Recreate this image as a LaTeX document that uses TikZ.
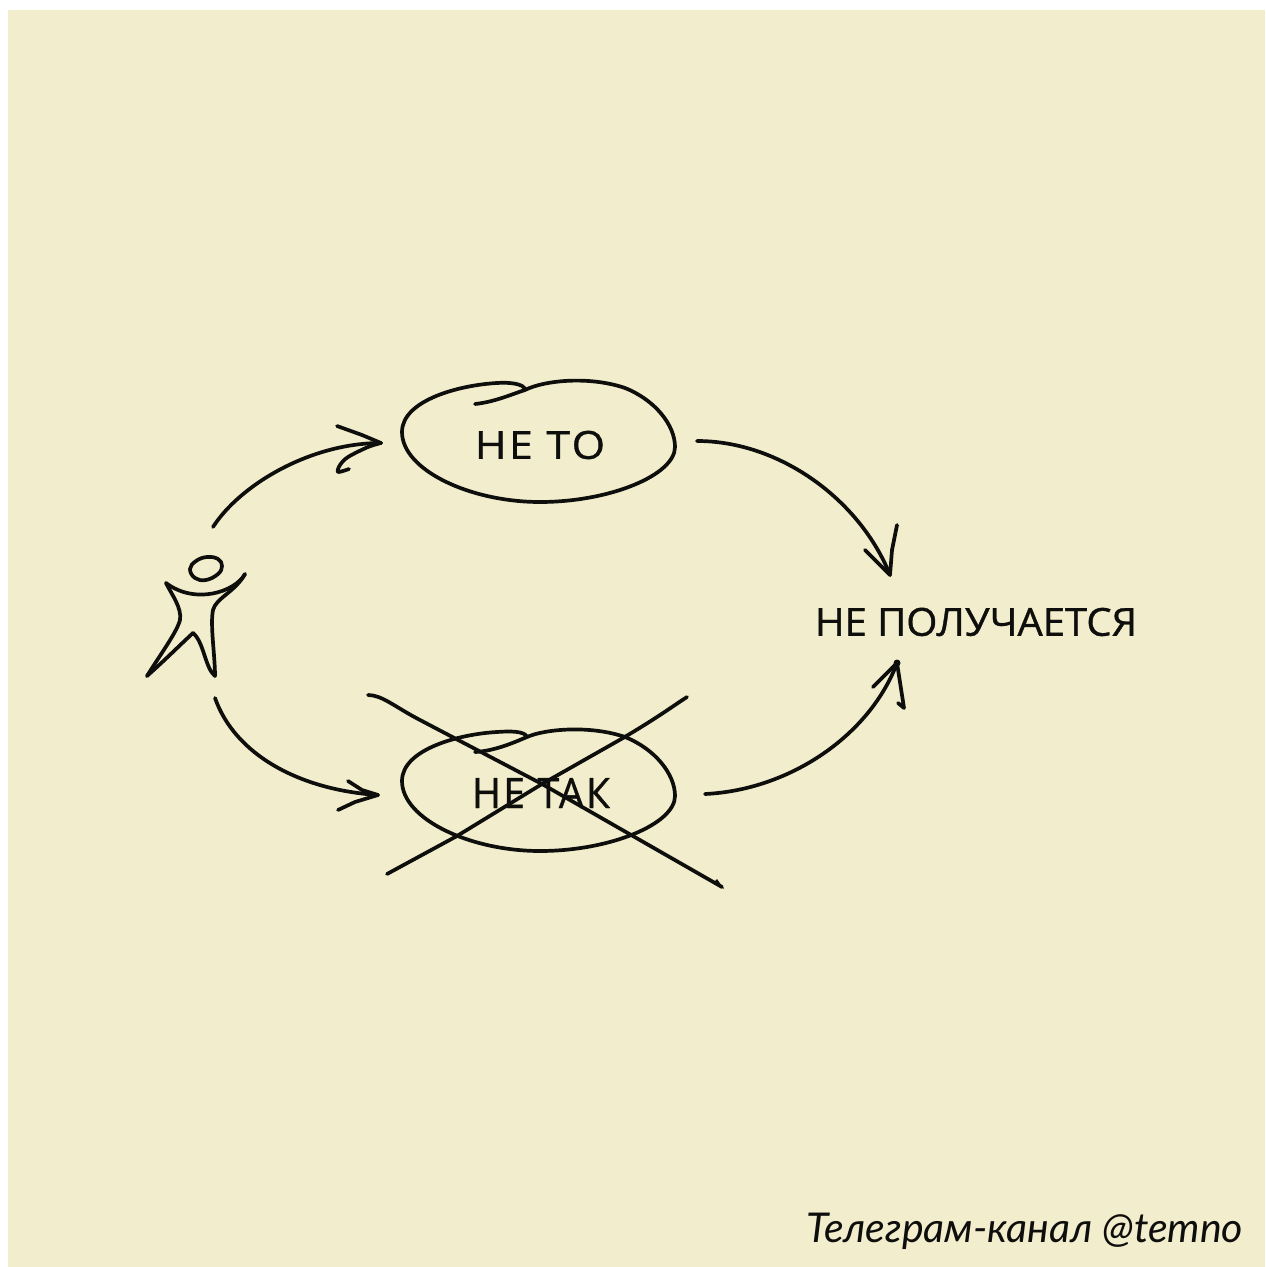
\documentclass[tikz,border=0pt]{standalone}
\usepackage{graphicx}
\usepackage{fontspec}
\setmainfont{Open Sans}
\newfontfamily\handfont{Open Sans}[FakeBold=0.9]
\newfontfamily\capfont{Lato}
\definecolor{paper}{HTML}{F2EDCC}
\definecolor{ink}{HTML}{0E0E0C}
\newcommand{\fitlabel}[3]{\resizebox{#1}{#2}{#3}}
\tikzset{
  sketch/.style={draw=ink,line width=1.85pt,line cap=round,line join=round},
  handlabel/.style={inner sep=0pt,outer sep=0pt,text=ink},
}
\begin{document}
\begin{tikzpicture}[x=0.5pt,y=-0.5pt]
\useasboundingbox (0,0) rectangle (1265,1267);
\fill[white] (0,0) rectangle (1265,1267);
\fill[paper] (8,10) rectangle (1265,1267);

% labels
\node[handlabel] (neto) at (540,445) {\fitlabel{65pt}{14pt}{\handfont\addfontfeature{LetterSpace=6}НЕ ТО}};
\node[handlabel] (netak) at (541,793) {\fitlabel{69pt}{15pt}{\handfont\addfontfeature{LetterSpace=6}НЕ ТАК}};
\node[handlabel] (result) at (976,622) {\fitlabel{161pt}{14pt}{\handfont НЕ ПОЛУЧАЕТСЯ}};
\node[handlabel,anchor=base west] (credit) at (806,1242) {\resizebox{218.5pt}{!}{\capfont\itshape Телеграм-канал @temno}};

% connector ends
\coordinate (manTop) at (213,527);
\coordinate (manBottom) at (215,698);
\coordinate (netoIn) at (381,443);
\coordinate (netoOut) at (697,441);
\coordinate (netakIn) at (378,795);
\coordinate (netakOut) at (705,794);
\coordinate (resultTop) at (890,575);
\coordinate (resultBottom) at (897,663);

% top blob
\draw[sketch] (475,404) .. controls (495,402) and (515,393) .. (525,390)
  .. controls (545,380) and (590,376) .. (625,388)
  .. controls (655,400) and (675,425) .. (675,447)
  .. controls (675,475) and (610,502) .. (540,502)
  .. controls (470,502) and (402,470) .. (402,432)
  .. controls (402,400) and (460,385) .. (497,383)
  .. controls (510,382) and (525,384) .. (525,390);

% bottom blob
\draw[sketch] (475,752) .. controls (495,751) and (515,742) .. (527,737)
  .. controls (545,729) and (590,725) .. (625,737)
  .. controls (655,749) and (675,774) .. (675,796)
  .. controls (675,824) and (610,851) .. (540,851)
  .. controls (470,851) and (402,819) .. (402,781)
  .. controls (402,749) and (460,734) .. (497,732)
  .. controls (510,731) and (525,731) .. (527,737);

% cross
\draw[sketch] (368,695) .. controls (382,695) and (395,707) .. (420,720) -- (542,784) -- (722,887);
\draw[sketch] (687,697) .. controls (670,708) and (660,716) .. (623,738) -- (542,784) -- (457,836) -- (387,874);
\fill[ink] (724,889) -- (717,879) -- (713,883) -- cycle;

% figure
\draw[sketch] plot[smooth cycle,tension=0.7] coordinates {(190,569) (196,561) (207,557) (218,559) (222,566) (218,574) (206,580) (195,578)};
\draw[sketch] (245,574) .. controls (235,592) and (195,605) .. (166,583);
\draw[sketch] (166,583) .. controls (172,595) and (182,608) .. (180,620) .. controls (177,632) and (160,655) .. (147,676);
\draw[sketch] (147,676) .. controls (165,660) and (180,645) .. (193,633);
\draw[sketch] (193,633) .. controls (204,642) and (205,668) .. (215,676);
\draw[sketch] (215,676) .. controls (215,655) and (210,625) .. (213,610) .. controls (216,598) and (235,592) .. (245,574);

% arrows
\draw[sketch] (manTop) .. controls (240,485) and (310,443) .. (netoIn);
\draw[sketch] (337,426) -- (362,435) -- (netoIn);
\draw[sketch] plot[smooth,tension=0.5] coordinates {(netoIn) (368,447) (348,457) (340,465) (338,472) (349,469)};

\draw[sketch] (manBottom) .. controls (235,755) and (300,790) .. (netakIn);
\draw[sketch] (348,781) -- (362,790) -- (netakIn) -- (355,802) -- (338,810);

\draw[sketch] (netoOut) .. controls (780,441) and (860,500) .. (resultTop);
\draw[sketch] (865,550) -- (resultTop) -- (892,550) -- (897,525);

\draw[sketch] (netakOut) .. controls (790,790) and (870,735) .. (resultBottom);
\draw[sketch] (873,687) -- (resultBottom) -- (904,708) -- (898,703);
\fill[ink] (resultBottom) circle (3.5);
\end{tikzpicture}
\end{document}
